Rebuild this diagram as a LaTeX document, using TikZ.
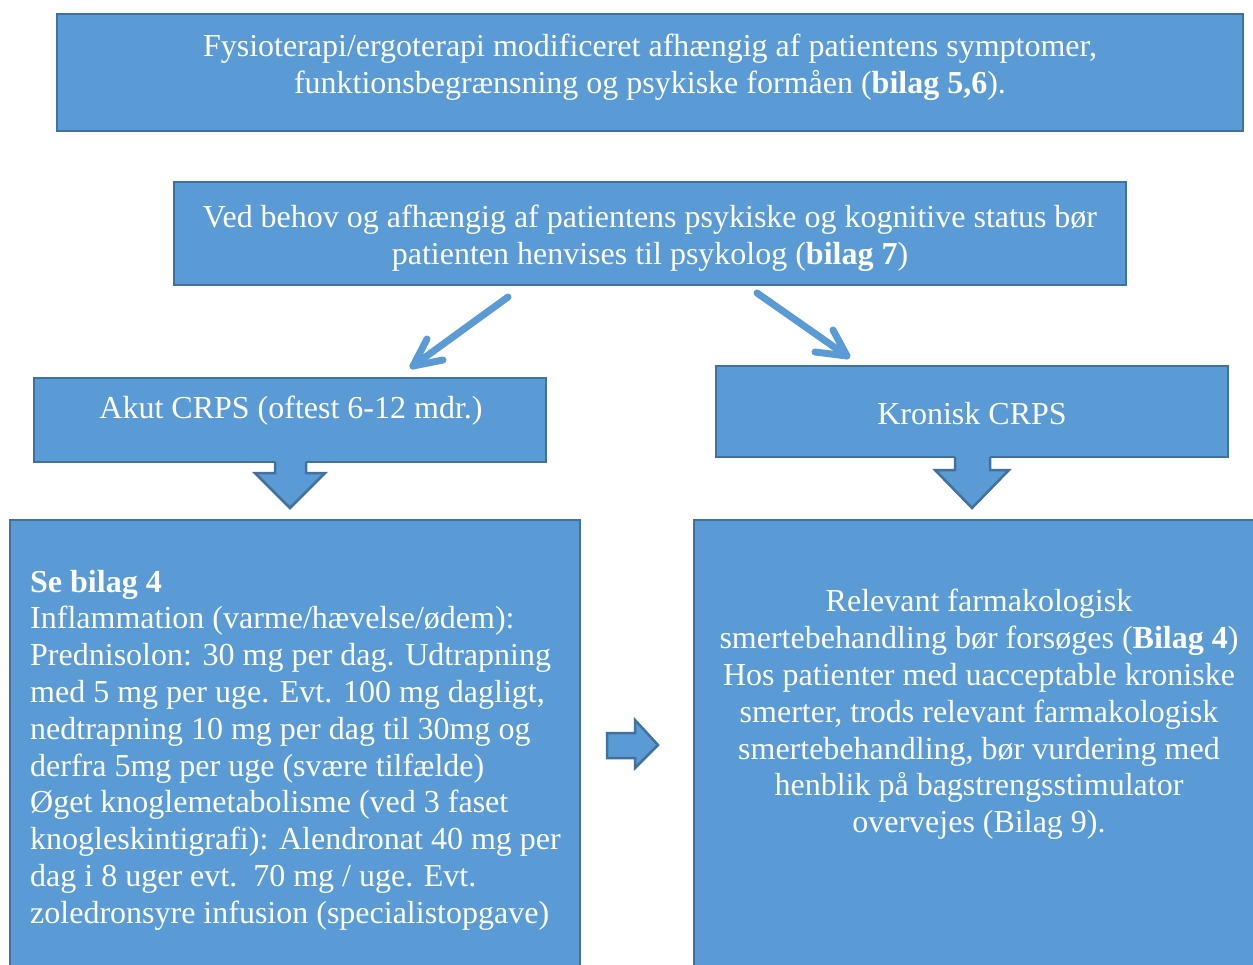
\documentclass[tikz,border=0pt]{standalone}
\usepackage{fontspec}
\setmainfont{Liberation Serif}
\usetikzlibrary{arrows.meta}
\definecolor{boxfill}{HTML}{5B9BD5}
\definecolor{boxline}{HTML}{41719C}
\tikzset{
  box/.style={draw=boxline, fill=boxfill, line width=2.5pt, inner sep=0pt},
  txt/.style={text=white, font=\fontsize{32}{36.8}\selectfont, inner sep=0pt},
  blockarrow/.style={draw=boxline, line width=2.5pt, line join=miter},
  diag/.style={draw=boxfill, line width=7pt, line cap=round, line join=round}
}
\begin{document}
\begin{tikzpicture}[x=1pt,y=-1pt]
\useasboundingbox (0,0) rectangle (1253,965);
\clip (0,0) rectangle (1253,965);
% boxes
\node[box, minimum width=1186pt, minimum height=117pt] (b1) at (650,72.5) {};
\node[box, minimum width=952pt, minimum height=103pt] (b2) at (650,233.5) {};
\node[box, minimum width=512pt, minimum height=84pt] (b3) at (290,420) {};
\node[box, minimum width=512pt, minimum height=91pt] (b4) at (972,411.5) {};
\node[box, minimum width=570pt, minimum height=480pt] (b5) at (295,760) {};
\node[box, minimum width=600pt, minimum height=480pt] (b6) at (994,760) {};
% texts
\node[txt, align=center] (t1) at (650,67) {Fysioterapi/ergoterapi modificeret afhængig af patientens symptomer,\\funktionsbegrænsning og psykiske formåen (\textbf{bilag 5,6}).};
\node[txt, align=center] (t2) at (650,238.5) {Ved behov og afhængig af patientens psykiske og kognitive status bør\\patienten henvises til psykolog (\textbf{bilag 7})};
\node[txt] (t3) at (291,411) {Akut CRPS (oftest 6-12 mdr.)};
\node[txt] (t4) at (972,414) {Kronisk CRPS};
\node[txt, align=left, anchor=west] (t5) at (30,750) {\textbf{Se bilag 4}\\Inflammation (varme/hævelse/ødem):\\Prednisolon: 30 mg per dag. Udtrapning\\med 5 mg per uge. Evt. 100 mg dagligt,\\nedtrapning 10 mg per dag til 30mg og\\derfra 5mg per uge (svære tilfælde)\\Øget knoglemetabolisme (ved 3 faset\\knogleskintigrafi): Alendronat 40 mg per\\dag i 8 uger evt.\ \ 70 mg / uge. Evt.\\zoledronsyre infusion (specialistopgave)};
\node[txt, align=center] (t6) at (979,714.5) {Relevant farmakologisk\\smertebehandling bør forsøges (\textbf{Bilag 4})\\Hos patienter med uacceptable kroniske\\smerter, trods relevant farmakologisk\\smertebehandling, bør vurdering med\\henblik på bagstrengsstimulator\\overvejes (Bilag 9).};
% down block arrows
\fill[boxfill] (275,458) -- (275,473) -- (255,473) -- (290,508) -- (325,473) -- (306,473) -- (306,458) -- cycle;
\draw[blockarrow] (275,462) -- (275,473) -- (255,473) -- (290,508) -- (325,473) -- (306,473) -- (306,462);
\fill[boxfill] (955,453) -- (955,470) -- (935,470) -- (972,508) -- (1009,470) -- (990,470) -- (990,453) -- cycle;
\draw[blockarrow] (955,457) -- (955,470) -- (935,470) -- (972,508) -- (1009,470) -- (990,470) -- (990,457);
% right block arrow
\draw[blockarrow, fill=boxfill] (607,733) -- (635,733) -- (635,720) -- (658,745) -- (635,768) -- (635,758) -- (607,758) -- cycle;
% diagonal arrows
\coordinate (l0) at (508,297);
\coordinate (l1) at (413,366);
\coordinate (la) at (427,339);
\coordinate (lb) at (443,360);
\draw[diag] (l0) -- (l1);
\draw[diag] (la) -- (l1) -- (lb);
\coordinate (r0) at (757,293);
\coordinate (r1) at (847,356);
\coordinate (ra) at (833,330);
\coordinate (rb) at (815,352);
\draw[diag] (r0) -- (r1);
\draw[diag] (ra) -- (r1) -- (rb);
\end{tikzpicture}
\end{document}
